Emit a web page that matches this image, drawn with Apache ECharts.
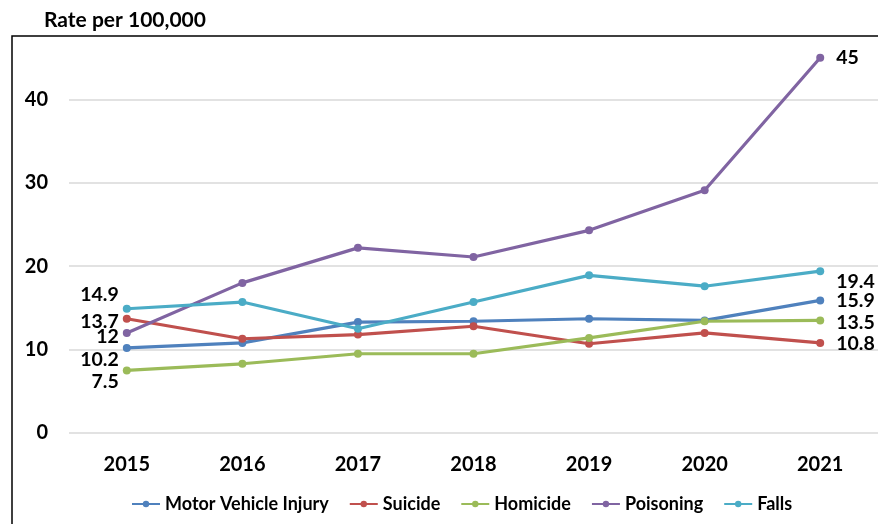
<!DOCTYPE html>
<html lang="en">
<head>
    <meta charset="UTF-8">
    <title>Rate per 100,000</title>
    <script src="https://cdn.jsdelivr.net/npm/echarts@6/dist/echarts.min.js"></script>
    <style type="text/css">
        html, body {
            margin: 0;
            padding: 0;
            background: #ffffff;
        }

        #chart {
            width: 878px;
            height: 524px;
        }
    </style>
</head>
<body>
<div id="chart"></div>
<script type="text/javascript">
    const years = ["2015", "2016", "2017", "2018", "2019", "2020", "2021"];
    const motorVehicle = [10.2, 10.8, 13.3, 13.4, 13.7, 13.5, 15.9];
    const suicide = [13.7, 11.3, 11.8, 12.8, 10.7, 12.0, 10.8];
    const homicide = [7.5, 8.3, 9.5, 9.5, 11.4, 13.4, 13.5];
    const poisoning = [12, 18.0, 22.2, 21.1, 24.3, 29.1, 45];
    const falls = [14.9, 15.7, 12.5, 15.7, 18.9, 17.6, 19.4];

    const font = "Lato, 'Open Sans', sans-serif";

    // offsets of the end labels so they don't overlap (first point, last point)
    function lineSeries(name, values, color, firstOffset, lastOffset) {
        return {
            name: name,
            type: "line",
            symbol: "circle",
            symbolSize: 8,
            lineStyle: {width: 3.2, color: color},
            itemStyle: {color: color},
            data: values.map((v, i) => {
                if (i === 0) {
                    return {value: v, label: {show: true, position: "left", distance: 4, offset: firstOffset}};
                }
                if (i === values.length - 1) {
                    return {value: v, label: {show: true, position: "right", distance: 12, offset: lastOffset}};
                }
                return v;
            }),
            label: {
                color: "#000",
                fontFamily: font,
                fontWeight: "bold",
                fontSize: 19.5
            }
        };
    }

    const chart = echarts.init(document.getElementById("chart"));
    chart.setOption({
        animation: false,
        graphic: [{
            type: "rect",
            shape: {x: 12, y: 36, width: 900, height: 600},
            style: {fill: "none", stroke: "#000", lineWidth: 1.5},
            silent: true
        }],
        title: {
            text: "Rate per 100,000",
            left: 39,
            top: 5,
            textStyle: {fontFamily: font, fontWeight: "bold", fontSize: 21, color: "#000"}
        },
        grid: {left: 69, right: -2, top: 16, bottom: 91},
        legend: {
            bottom: 6,
            left: 126,
            itemWidth: 28,
            itemHeight: 8,
            itemGap: 20,
            textStyle: {fontFamily: font, fontWeight: "bold", fontSize: 18, color: "#000"},
            data: ["Motor Vehicle Injury", "Suicide", "Homicide", "Poisoning", "Falls"]
        },
        xAxis: {
            type: "category",
            data: years,
            axisLine: {show: false},
            axisTick: {show: false},
            axisLabel: {margin: 22, color: "#000", fontFamily: font, fontWeight: "bold", fontSize: 20}
        },
        yAxis: {
            type: "value",
            min: 0,
            max: 50,
            interval: 10,
            axisLabel: {
                margin: 21, color: "#000", fontFamily: font, fontWeight: "bold", fontSize: 20,
                formatter: v => (v >= 50 ? "" : v)
            },
            splitLine: {
                lineStyle: {color: "#d9d9d9", width: 1.5},
                showMaxLine: false
            }
        },
        series: [
            lineSeries("Motor Vehicle Injury", motorVehicle, "#4f81bd", [0, 12], [0, 0]),
            lineSeries("Suicide", suicide, "#c0504d", [0, 3], [0, 1]),
            lineSeries("Homicide", homicide, "#9bbb59", [0, 11], [0, 2]),
            lineSeries("Poisoning", poisoning, "#8064a2", [0, 4], [0, 0]),
            lineSeries("Falls", falls, "#4bacc6", [0, -14], [0, 11])
        ]
    });
</script>
</body>
</html>
